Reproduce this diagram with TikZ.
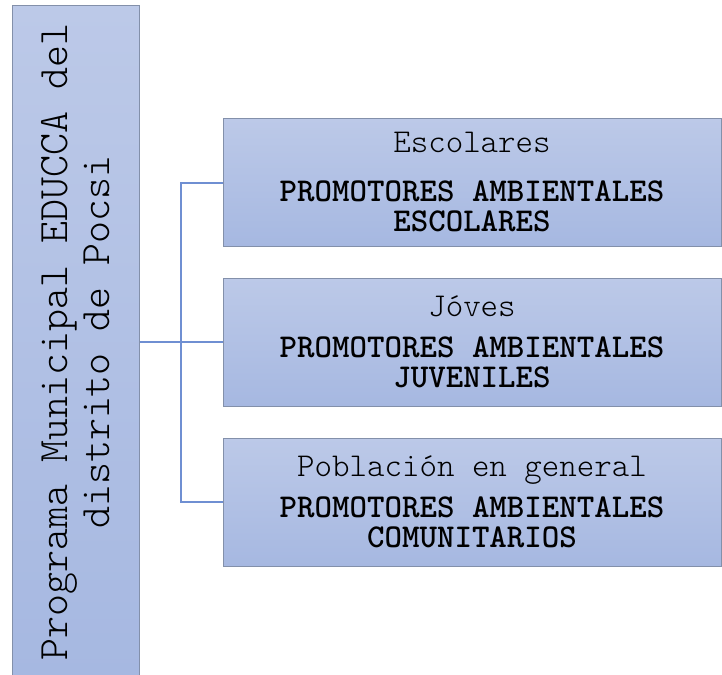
\documentclass[tikz,border=0pt]{standalone}
\usepackage{fontspec}
\newfontfamily\typew{lmmonolt10-regular.otf}
\newfontfamily\typewbold{lmmonolt10-bold.otf}
\newcommand{\boldline}[1]{{\typewbold #1}}
\definecolor{boxtop}{HTML}{BCC9E8}
\definecolor{boxbot}{HTML}{A6B8E1}
\definecolor{boxline}{HTML}{8390AA}
\definecolor{linkblue}{HTML}{6F8FD2}

\begin{document}
\begin{tikzpicture}[x=1pt, y=-1pt,
        prog/.style={draw=boxline, line width=1pt, top color=boxtop, bottom color=boxbot,
          rotate=90, minimum width=672pt, minimum height=127pt, inner sep=0pt, align=center,
          font=\typew\fontsize{41.9}{42}\selectfont},
        group/.style={draw=boxline, line width=1pt, top color=boxtop, bottom color=boxbot,
          minimum width=498pt, minimum height=128pt, inner sep=0pt, align=center,
          font=\typew\fontsize{33.3}{30}\selectfont},
        link/.style={draw=linkblue, line width=2pt}
      ]
      \useasboundingbox (0,0) rectangle (722,674);
      \node [prog] (programa) at (75.5,342) {Programa Municipal EDUCCA del\\distrito de Pocsi};
      \node [group] (escolares) at (472,182.5)
        {Escolares\\[19pt]\boldline{PROMOTORES AMBIENTALES}\\\boldline{ESCOLARES}};
      \node [group] (jovenes) at (472,342)
        {Jóves\\[11pt]\boldline{PROMOTORES AMBIENTALES}\\\boldline{JUVENILES}};
      \node [group] (poblacion) at (472,502)
        {Población en general\\[11pt]\boldline{PROMOTORES AMBIENTALES}\\\boldline{COMUNITARIOS}};
      \coordinate (bus) at (181,342);
      \draw [link] (programa.south) -- (jovenes.west);
      \draw [link] (escolares.west) -- (escolares.west -| bus)
        -- (poblacion.west -| bus) -- (poblacion.west);
    \end{tikzpicture}
\end{document}
